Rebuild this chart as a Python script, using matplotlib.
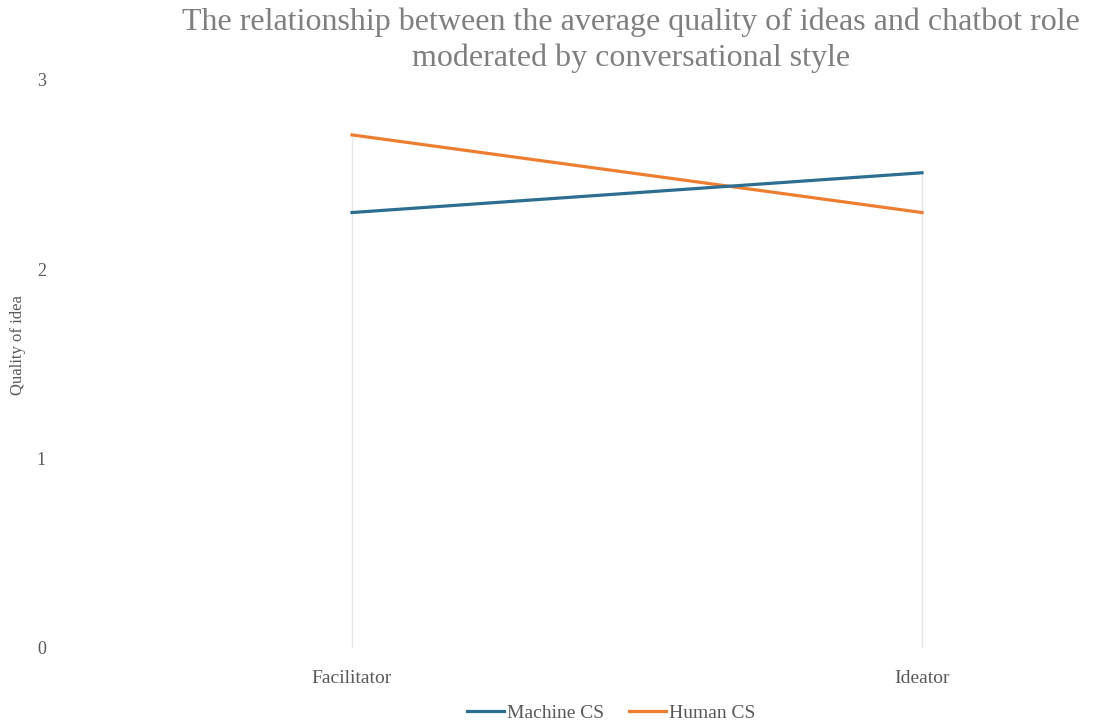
import numpy as np
import matplotlib.pyplot as plt

# data
roles = ['Facilitator', 'Ideator']
machine_cs = [2.30, 2.51]
human_cs = [2.71, 2.30]
yticks = [0, 1, 2, 3]

plt.rcParams['font.family'] = ['Liberation Serif', 'DejaVu Serif']

fig = plt.figure(figsize=(11.15, 7.28), dpi=100)
ax = fig.add_axes([50 / 1115, 80 / 728, 1060 / 1115, 568 / 728])

x = np.arange(len(roles))

# drop lines from the highest point down to zero
tops = np.maximum(machine_cs, human_cs)
ax.vlines(x, 0, tops, color='#e6e6e6', lw=1, zorder=1)

ax.plot(x, machine_cs, color='#2c6e91', lw=2.3, label='Machine CS', zorder=3)
ax.plot(x, human_cs, color='#ed7d31', lw=2.3, label='Human CS', zorder=2)

ax.set_xlim((50 - 352) / 570, (1110 - 352) / 570)
ax.set_ylim(0, 3)
ax.set_xticks(x)
ax.set_xticklabels(roles)
ax.set_yticks(yticks)
ax.tick_params(length=0, colors='#595959')
ax.tick_params(axis='x', pad=16, labelsize=14)
ax.tick_params(axis='y', pad=3, labelsize=13)
for s in ax.spines.values():
    s.set_visible(False)

fig.text(18 / 1115, 1 - 345 / 728, 'Quality of idea', rotation=90, ha='center',
         va='center', fontsize=12, color='#595959')
fig.text(631 / 1115, 1 - 40 / 728,
         'The relationship between the average quality of ideas and chatbot role\nmoderated by conversational style',
         ha='center', va='center', fontsize=23, color='#7f7f7f', linespacing=1.3)

fig.legend(loc='center', bbox_to_anchor=(611 / 1115, 1 - 713 / 728), ncol=2,
           frameon=False, fontsize=14, handlelength=1.9, handletextpad=0.15,
           columnspacing=1.3, labelcolor='#595959')

fig.savefig('out.png', dpi=100)
